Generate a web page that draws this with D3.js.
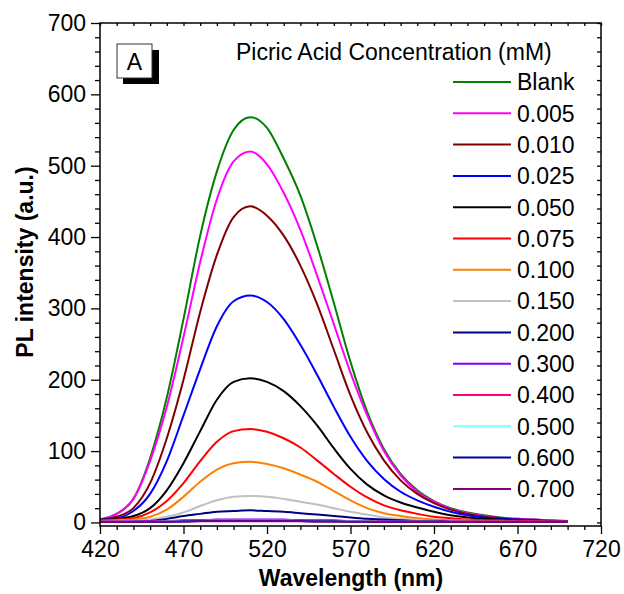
<!DOCTYPE html>
<html>
<head>
<meta charset="utf-8">
<script src="https://cdn.jsdelivr.net/npm/d3@7"></script>
<style>
  body { margin: 0; background: #fff; }
  svg { display: block; font-family: "Liberation Sans", Arial, sans-serif; }
</style>
</head>
<body>
<svg width="624" height="594"></svg>
<script>
var svg = d3.select("svg");

// wavelength grid (nm)
var wavelength = [420, 430, 440, 450, 460, 470, 480, 490, 500, 510, 520, 530, 540, 550, 560,
                  570, 580, 590, 600, 610, 620, 630, 640, 650, 660, 670, 680, 690, 700];

// PL intensity per picric acid concentration
var blank = [4, 12, 33, 90, 175, 285, 402, 492, 550, 568, 553, 510, 458, 388, 308,
             225, 155, 103, 68, 45, 30, 20, 14, 10, 7, 5, 4, 3, 2];
var c0005 = [4, 12, 33, 86, 162, 260, 365, 453, 506, 520, 502, 462, 410, 346, 278,
             210, 150, 100, 66, 43, 29, 19, 13, 9, 6, 5, 4, 3, 2];
var c0010 = [4, 8, 20, 55, 118, 200, 295, 375, 428, 443, 430, 402, 360, 306, 242,
             178, 126, 87, 59, 40, 27, 18, 12, 8, 6, 4, 3, 2, 2];
var c0025 = [4, 6, 16, 40, 86, 150, 215, 275, 310, 318, 309, 285, 249, 207, 162,
             120, 86, 61, 43, 31, 22, 15, 10, 7, 5, 4, 3, 2, 2];
var c0050 = [3, 5, 9, 20, 45, 83, 128, 172, 197, 202, 197, 184, 163, 136, 104,
             75, 53, 38, 28, 21, 15, 10, 7, 5, 4, 3, 2, 2, 1];
var c0075 = [3, 4, 6, 14, 30, 55, 86, 113, 128, 131, 127, 118, 105, 87, 68,
             50, 35, 24, 17, 12, 8, 6, 4, 3, 3, 2, 2, 1, 1];
var c0100 = [2, 3, 4, 8, 18, 36, 57, 74, 83, 85, 82, 76, 67, 57, 44,
             31, 20, 13, 9, 6, 4, 3, 3, 2, 2, 1, 1, 1, 1];
var c0150 = [1, 2, 2, 4, 8, 14, 23, 31, 36, 37, 36, 33, 29, 25, 20,
             15, 11, 7, 5, 3, 2, 2, 1, 1, 1, 1, 1, 1, 1];
var c0200 = [1, 1, 1, 2, 5, 9, 12, 15, 16, 17, 16, 15, 13, 11, 9,
             7, 5, 4, 3, 2, 2, 1, 1, 1, 1, 1, 1, 1, 1];
var c0300 = [1, 1, 1, 2, 2, 3, 3, 4, 4, 4, 4, 4, 3, 3, 3,
             2, 2, 2, 1, 1, 1, 1, 1, 1, 1, 1, 1, 1, 1];
var c0400 = [1, 1, 1, 1, 2, 2, 3, 3, 3, 3, 3, 3, 3, 2, 2,
             2, 2, 1, 1, 1, 1, 1, 1, 1, 1, 1, 1, 1, 1];
var c0500 = [0.5, 0.5, 1, 1, 1.5, 2, 2, 2.5, 2.5, 2.5, 2.5, 2.5, 2, 2, 2,
             1.5, 1.5, 1, 1, 1, 1, 0.5, 0.5, 0.5, 0.5, 0.5, 0.5, 0.5, 0.5];
var c0600 = [0.5, 0.5, 1, 1, 1, 1.5, 2, 2, 2, 2, 2, 2, 2, 1.5, 1.5,
             1, 1, 1, 1, 0.5, 0.5, 0.5, 0.5, 0.5, 0.5, 0.5, 0.5, 0.5, 0.5];
var c0700 = [0.5, 0.5, 0.5, 1, 1, 1, 1.5, 1.5, 1.5, 1.5, 1.5, 1.5, 1.5, 1, 1,
             1, 1, 0.5, 0.5, 0.5, 0.5, 0.5, 0.5, 0.5, 0.5, 0.5, 0.5, 0.5, 0.5];

var concLabels = ["Blank", "0.005", "0.010", "0.025", "0.050", "0.075", "0.100",
                  "0.150", "0.200", "0.300", "0.400", "0.500", "0.600", "0.700"];
var concColors = ["#008000", "#ff00ff", "#800000", "#0000ff", "#000000", "#ff0000", "#ff8000",
                  "#c0c0c0", "#000080", "#8000ff", "#ff0080", "#80ffff", "#0000a0", "#800080"];
var concValues = [blank, c0005, c0010, c0025, c0050, c0075, c0100,
                  c0150, c0200, c0300, c0400, c0500, c0600, c0700];

var xTicks = [420, 470, 520, 570, 620, 670, 720];
var yTicks = [0, 100, 200, 300, 400, 500, 600, 700];

var series = concLabels.map(function(name, i) {
  return {
    name: name,
    color: concColors[i],
    points: wavelength.map(function(w, j) { return {x: w, y: concValues[i][j]}; })
  };
});

// plot frame
var plotLeft = 100, plotRight = 601, plotTop = 23, plotBottom = 526;

var x = d3.scaleLinear().domain([420, 720]).range([plotLeft, plotRight]);
var y = d3.scaleLinear().domain([-5, 700]).range([plotBottom, plotTop]);

var font = "23px";

svg.append("defs").append("clipPath").attr("id", "plotclip")
  .append("rect")
  .attr("x", plotLeft).attr("y", plotTop)
  .attr("width", plotRight - plotLeft).attr("height", plotBottom - plotTop);

// curves
var line = d3.line()
  .x(function(d) { return x(d.x); })
  .y(function(d) { return y(d.y); })
  .curve(d3.curveMonotoneX);

svg.append("g")
  .attr("class", "curves")
  .attr("clip-path", "url(#plotclip)")
  .selectAll("path")
  .data(series)
  .enter().append("path")
    .attr("d", function(d) { return line(d.points); })
    .attr("fill", "none")
    .attr("stroke", function(d) { return d.color; })
    .attr("stroke-width", 2)
    .attr("stroke-linejoin", "round");

// axes
var xMinor = d3.range(420, 721, 10).filter(function(v) { return xTicks.indexOf(v) < 0; });
var yMinor = d3.range(0, 701, 20).filter(function(v) { return yTicks.indexOf(v) < 0; });

function styleAxis(g) {
  g.select(".domain").remove();
  g.selectAll(".tick line").attr("stroke", "#000").attr("stroke-width", 1.3);
  g.selectAll(".tick text")
    .attr("fill", "#000")
    .style("font-size", font)
    .style("font-family", "'Liberation Sans', Arial, sans-serif");
}

// bottom
svg.append("g")
  .attr("transform", "translate(0," + plotBottom + ")")
  .call(d3.axisBottom(x).tickValues(xTicks).tickSize(8).tickPadding(7).tickFormat(d3.format("d")))
  .call(styleAxis);
svg.append("g")
  .attr("transform", "translate(0," + plotBottom + ")")
  .call(d3.axisBottom(x).tickValues(xMinor).tickSize(4).tickFormat(""))
  .call(styleAxis);

// left
svg.append("g")
  .attr("transform", "translate(" + plotLeft + ",0)")
  .call(d3.axisLeft(y).tickValues(yTicks).tickSize(9).tickPadding(5).tickFormat(d3.format("d")))
  .call(styleAxis);
svg.append("g")
  .attr("transform", "translate(" + plotLeft + ",0)")
  .call(d3.axisLeft(y).tickValues(yMinor).tickSize(5).tickFormat(""))
  .call(styleAxis);

// top (inward ticks)
svg.append("g")
  .attr("transform", "translate(0," + plotTop + ")")
  .call(d3.axisTop(x).tickValues(d3.range(420, 721, 10)).tickSize(-3).tickFormat(""))
  .call(styleAxis);

// right (inward ticks)
svg.append("g")
  .attr("transform", "translate(" + plotRight + ",0)")
  .call(d3.axisRight(y).tickValues(d3.range(0, 701, 20)).tickSize(-4).tickFormat(""))
  .call(styleAxis);

svg.append("rect")
  .attr("x", plotLeft).attr("y", plotTop)
  .attr("width", plotRight - plotLeft).attr("height", plotBottom - plotTop)
  .attr("fill", "none")
  .attr("stroke", "#000")
  .attr("stroke-width", 1.5);

// axis titles
svg.append("text")
  .attr("x", 351)
  .attr("y", 586)
  .attr("text-anchor", "middle")
  .style("font-size", "23px")
  .style("font-weight", "bold")
  .text("Wavelength (nm)");

svg.append("text")
  .attr("transform", "translate(33,262) rotate(-90)")
  .attr("text-anchor", "middle")
  .style("font-size", "23px")
  .style("font-weight", "bold")
  .text("PL intensity (a.u.)");

// panel label
svg.append("rect")
  .attr("x", 123).attr("y", 50).attr("width", 36).attr("height", 34)
  .attr("fill", "#000");
svg.append("rect")
  .attr("x", 117).attr("y", 44).attr("width", 35).attr("height", 34)
  .attr("fill", "#fff").attr("stroke", "#333").attr("stroke-width", 1);
svg.append("text")
  .attr("x", 134.5).attr("y", 69.5)
  .attr("text-anchor", "middle")
  .style("font-size", font)
  .text("A");

// legend
svg.append("text")
  .attr("x", 236).attr("y", 60)
  .style("font-size", font)
  .text("Picric Acid Concentration (mM)");

var legend = svg.append("g").attr("class", "legend")
  .selectAll("g")
  .data(series)
  .enter().append("g")
    .attr("transform", function(d, i) { return "translate(453," + (82 + i * 31.3) + ")"; });

legend.append("line")
  .attr("x1", 0).attr("x2", 58)
  .attr("stroke", function(d) { return d.color; })
  .attr("stroke-width", 2);

legend.append("text")
  .attr("x", 64).attr("y", 8.3)
  .style("font-size", font)
  .text(function(d) { return d.name; });
</script>
</body>
</html>
